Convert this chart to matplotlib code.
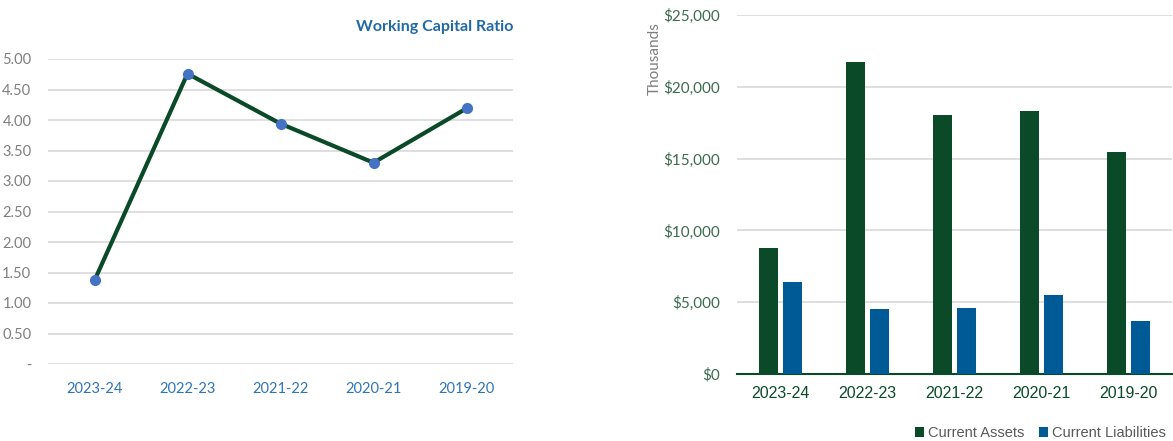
import matplotlib
matplotlib.use("Agg")
import matplotlib.pyplot as plt
import numpy as np

# data
years = ["2023-24", "2022-23", "2021-22", "2020-21", "2019-20"]
wc_ratio = [1.37, 4.76, 3.94, 3.30, 4.19]
current_assets = [8780, 21760, 18040, 18330, 15480]
current_liabilities = [6420, 4560, 4570, 5510, 3690]
ratio_ticks = [0, 0.5, 1.0, 1.5, 2.0, 2.5, 3.0, 3.5, 4.0, 4.5, 5.0]
money_ticks = [0, 5000, 10000, 15000, 20000, 25000]

DARK_GREEN = "#0b4a28"
BLUE = "#005a96"
MARKER_BLUE = "#4472c4"
GRID = "#d9d9d9"

W, H = 1173, 441
fig = plt.figure(figsize=(W / 100, H / 100), dpi=100)


def rect(left, top, right, bottom):
    return [left / W, (H - bottom) / H, (right - left) / W, (bottom - top) / H]


# ------------------------------------------------ left: ratio line

ax1 = fig.add_axes(rect(48, 59, 513, 364))
x = np.arange(len(years))

ax1.plot(x, wc_ratio, color=DARK_GREEN, linewidth=3, zorder=3)
ax1.plot(x, wc_ratio, "o", color=MARKER_BLUE, markersize=7, zorder=4)

ax1.set_xlim(-0.5, len(years) - 0.5)
ax1.set_ylim(0, 5)
ax1.set_yticks(ratio_ticks)
ax1.set_yticklabels(["-"] + [f"{v:.2f}" for v in ratio_ticks[1:]],
                    color="#7f7f7f", fontsize=10.5, family="Lato")
ax1.set_xticks(x)
ax1.set_xticklabels(years, color="#2e75b6", fontsize=10.5, family="Lato")
ax1.tick_params(length=0, axis="y", pad=12)
ax1.tick_params(length=0, axis="x", pad=13)
ax1.grid(axis="y", color=GRID, linewidth=1.2)
ax1.set_axisbelow(True)
for s in ax1.spines.values():
    s.set_visible(False)

fig.text(513 / W, 1 - 27 / H, "Working Capital Ratio", ha="right", va="center",
         color="#1f6aa5", fontsize=11.5, fontweight="bold", family="Lato")

# ------------------------------------------------ right: bars

ax2 = fig.add_axes(rect(737, 15, 1172, 374))
w = 0.22
off = 0.14
ax2.bar(x - off, current_assets, w, color=DARK_GREEN, label="Current Assets", zorder=3)
ax2.bar(x + off, current_liabilities, w, color=BLUE, label="Current Liabilities", zorder=3)

ax2.set_xlim(-0.5, len(years) - 0.5)
ax2.set_ylim(0, 25000)
ax2.set_yticks(money_ticks)
ax2.set_yticklabels([f"${v:,}" for v in money_ticks], color="#3d6b4f",
                    fontsize=11, family="Lato")
ax2.set_xticks(x)
ax2.set_xticklabels(years, color=DARK_GREEN, fontsize=11.5, family="Liberation Sans")
ax2.tick_params(length=0, axis="y", pad=12)
ax2.tick_params(length=0, axis="x", pad=9)
ax2.grid(axis="y", color=GRID, linewidth=1.2)
ax2.set_axisbelow(True)
for s in ax2.spines.values():
    s.set_visible(False)
ax2.spines["bottom"].set_visible(True)
ax2.spines["bottom"].set_color(DARK_GREEN)
ax2.spines["bottom"].set_linewidth(1.5)

fig.text(655 / W, 1 - 59 / H, "Thousands", rotation=90, ha="center", va="center",
         color="#7f7f7f", fontsize=11, family="Lato")

ax2.legend(loc="center right", bbox_to_anchor=(1.0, -0.165), ncol=2, frameon=False,
           handlelength=0.6, handleheight=0.6, handletextpad=0.3, columnspacing=1.0,
           prop={"family": "Liberation Sans", "size": 10.5}, labelcolor="#595959",
           borderaxespad=0)

fig.savefig("out.png", dpi=100, facecolor="white")
